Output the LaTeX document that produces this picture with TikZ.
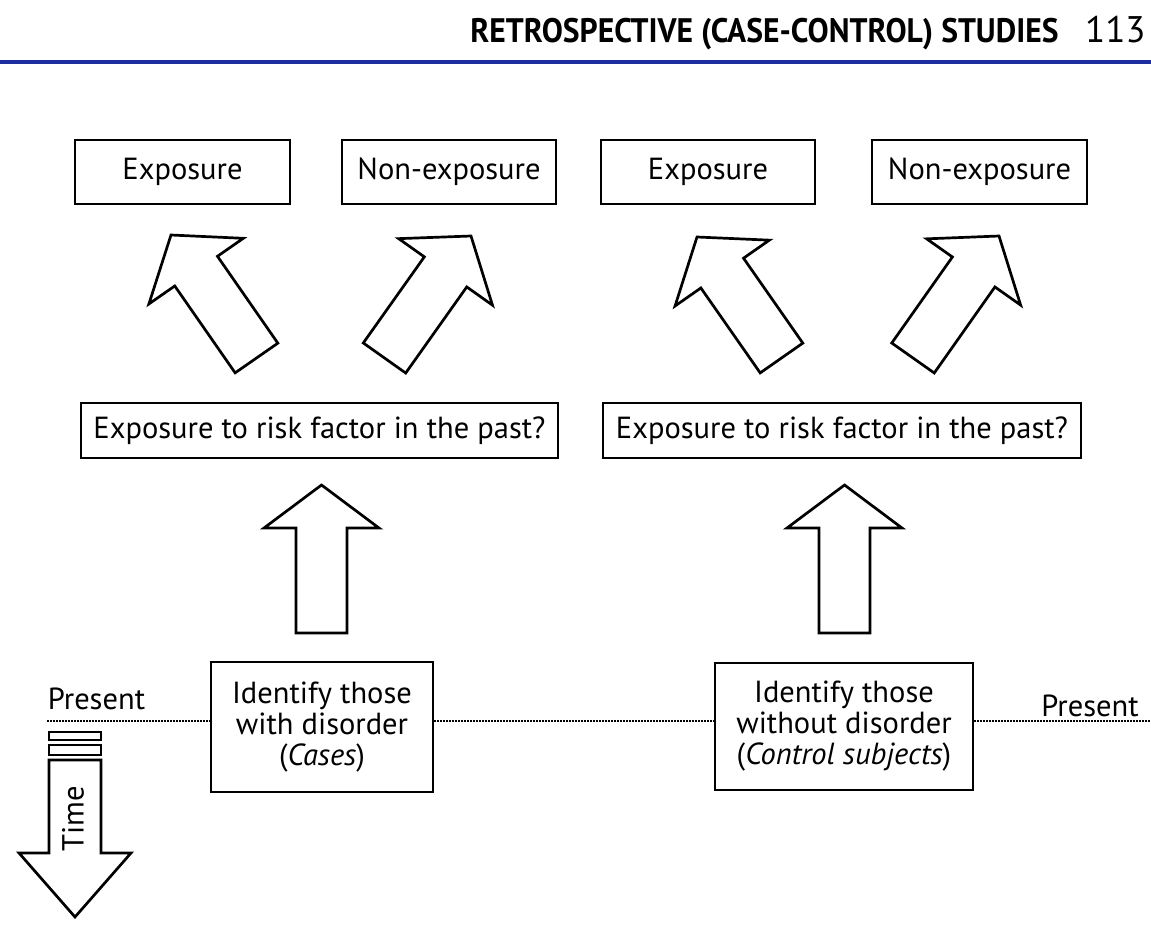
\documentclass[tikz,border=0pt]{standalone}
\usepackage{fontspec}
\setmainfont{PT Sans}
\usetikzlibrary{calc}
\definecolor{headblue}{RGB}{30,45,160}

\newcommand\blockarrow[5]{%
  \coordinate (neck) at ($(#2)!#5!(#1)$);
  \draw[blockline] ($(#1)!#3!90:(#2)$) -- ($(neck)!#3!90:(#2)$) -- ($(neck)!#4!90:(#2)$) -- (#2)
    -- ($(neck)!#4!-90:(#2)$) -- ($(neck)!#3!-90:(#2)$) -- ($(#1)!#3!-90:(#2)$) -- cycle;}

\begin{document}
\begin{tikzpicture}[x=1pt, y=-1pt, line width=2.7pt,
    box/.style={draw, inner sep=0pt, font=\fontsize{30.5}{31}\selectfont, minimum height=64pt},
    blockline/.style={draw, line join=miter, fill=white},
    timeline/.style={line width=2pt, dash pattern=on 1.5pt off 1.5pt}]
  \useasboundingbox (0,0) rectangle (1151,924);
  \node[inner sep=0pt, anchor=base west, xscale=0.93, transform shape, font=\bfseries\fontsize{34}{34}\selectfont] (title) at (469,42) {RETROSPECTIVE (CASE-CONTROL) STUDIES};
  \node[inner sep=0pt, anchor=base east, font=\fontsize{37}{37}\selectfont] (page) at (1147,42) {113};
  \draw[headblue, line width=4pt] (0,62) -- (1151,62);

  \node[box, minimum width=215pt] (exp1) at (182.5,172) {Exposure};
  \node[box, minimum width=214pt] (nonexp1) at (449,172) {Non-exposure};
  \node[box, minimum width=214pt] (exp2) at (708,172) {Exposure};
  \node[box, minimum width=215pt] (nonexp2) at (979.5,172) {Non-exposure};
  \node[box, minimum width=477pt, minimum height=55pt] (past1) at (319.5,430.5) {Exposure to risk factor in the past?};
  \node[box, minimum width=478pt, minimum height=55pt] (past2) at (842,430.5) {Exposure to risk factor in the past?};
  \node[box, align=center, minimum width=222pt, minimum height=130pt] (cases) at (322,727) {Identify those\\with disorder\\(\textit{Cases})};
  \node[box, align=center, minimum width=258pt, minimum height=127pt] (controls) at (844,726.5) {Identify those\\without disorder\\(\textit{Control subjects})};

  \node[inner sep=0pt, anchor=base, font=\fontsize{30.5}{31}\selectfont] (present1) at (96.5,709) {Present};
  \node[inner sep=0pt, anchor=base, font=\fontsize{30.5}{31}\selectfont] (present2) at (1090,716) {Present};
  \coordinate (pleft) at (47,721);
  \coordinate (pright) at (1151,721);
  \draw[timeline] (pleft) -- (pleft -| cases.west);
  \draw[timeline] (cases.east |- pleft) -- (controls.west |- pleft);
  \draw[timeline] (controls.east |- pleft) -- (pright);

  \coordinate (up1t) at (321.5,633);
  \coordinate (up1h) at (321.5,485);
  \coordinate (up2t) at (844.5,633);
  \coordinate (up2h) at (844.5,485);
  \blockarrow{up1t}{up1h}{25.5pt}{57.5pt}{43pt}
  \blockarrow{up2t}{up2h}{25.5pt}{57.5pt}{43pt}

  \coordinate (d1t) at (256.5,358);
  \coordinate (d1h) at (171,235);
  \coordinate (d2t) at (384.5,358);
  \coordinate (d2h) at (471,236);
  \coordinate (d3t) at (781.5,358);
  \coordinate (d3h) at (697,237);
  \coordinate (d4t) at (913,358);
  \coordinate (d4h) at (999,236);
  \blockarrow{d1t}{d1h}{26pt}{57.5pt}{44pt}
  \blockarrow{d2t}{d2h}{26pt}{57.5pt}{44pt}
  \blockarrow{d3t}{d3h}{26pt}{57.5pt}{44pt}
  \blockarrow{d4t}{d4h}{26pt}{57.5pt}{44pt}

  \draw[line width=2.2pt] (49,732) rectangle (101,740);
  \draw[line width=2.2pt] (49,745) rectangle (101,755);
  \coordinate (timet) at (75,760);
  \coordinate (timeh) at (75,917);
  \blockarrow{timet}{timeh}{26pt}{56pt}{64pt}
  \node[inner sep=0pt, rotate=90, font=\fontsize{30.5}{31}\selectfont] (time) at (73,819) {Time};
\end{tikzpicture}
\end{document}
